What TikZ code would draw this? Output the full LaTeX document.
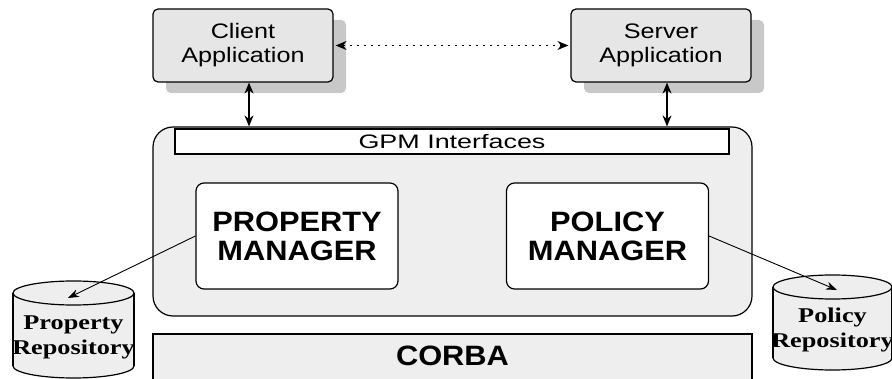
\documentclass[tikz,border=0pt]{standalone}
\usepackage{fontspec}
\setmainfont{Liberation Serif}
\setsansfont{Liberation Sans}
\newfontfamily\appfont[FakeStretch=1.2]{Liberation Sans}
\newfontfamily\barfont[FakeStretch=1.38]{Liberation Sans}
\newfontfamily\mgrfont[FakeStretch=1.1]{Liberation Sans}
\newfontfamily\repofont[FakeStretch=1.25]{Liberation Serif}
\usetikzlibrary{shadows,arrows.meta}
\definecolor{boxgray}{HTML}{EEEEEE}
\definecolor{appgray}{HTML}{E6E6E6}
\definecolor{shadowgray}{HTML}{C8C8C8}

\begin{document}
\begin{tikzpicture}[x=1pt,y=-1pt,
    app/.style={draw, line width=1.2pt, rounded corners=5pt, fill=appgray,
        minimum width=180pt, minimum height=73pt, inner sep=0pt, align=center,
        font=\appfont\fontsize{21}{24}\selectfont,
        drop shadow={shadow xshift=13pt, shadow yshift=-11pt, fill=shadowgray, opacity=1}},
    mgr/.style={draw, line width=1.2pt, rounded corners=8pt, fill=white,
        minimum width=202pt, minimum height=106pt, inner sep=0pt, align=center,
        font=\mgrfont\bfseries\fontsize{28}{29}\selectfont},
    repo/.style={draw, line width=1.2pt, fill=boxgray},
    repolabel/.style={inner sep=0pt, align=center,
        font=\repofont\bfseries\fontsize{21}{25}\selectfont},
    link/.style={line width=1.2pt, {Stealth[length=11pt,width=9pt]}-{Stealth[length=11pt,width=9pt]}},
    feed/.style={line width=0.9pt, -{Stealth[length=11pt,width=8pt]}}
]
\useasboundingbox (0,0) rectangle (892,379);

% applications
\node[app] (client) at (243,45.5) {Client\\Application};
\node[app] (server) at (661,45.5) {Server\\Application};
\draw[line width=1.3pt, dash pattern=on 2.5pt off 4.5pt, {Stealth[length=11pt,width=9pt]}-{Stealth[length=11pt,width=9pt]},
    shorten <=2pt, shorten >=2pt] (client.east) -- (server.west);

% GPM
\node[draw, line width=1.2pt, rounded corners=20pt, fill=boxgray,
    minimum width=599pt, minimum height=189pt] (main) at (452.5,221.5) {};
\node[draw, line width=1.2pt, fill=white, minimum width=554pt, minimum height=25pt, inner sep=0pt,
    font=\barfont\fontsize{19.5}{20}\selectfont] (gpm) at (452,141.5) {GPM Interfaces};

\draw[link] ([xshift=6pt]client.south) -- ([xshift=6pt]client.south |- main.north);
\draw[link] ([xshift=6pt]server.south) -- ([xshift=6pt]server.south |- main.north);

\node[mgr] (propmgr) at (297,236) {PROPERTY\\MANAGER};
\node[mgr] (polmgr) at (607.5,236) {POLICY\\MANAGER};

% CORBA
\node[draw, line width=1.2pt, fill=boxgray, minimum width=599pt, minimum height=66pt] (corbabox) at (452.5,367) {};
\node[font=\mgrfont\bfseries\fontsize{28}{29}\selectfont, inner sep=0pt] (corba) at (452.5,356) {CORBA};

% repositories
\foreach \name/\cx/\rx/\top/\bot in {propdb/73.5/60.5/293/366, poldb/832.5/59.5/287/358}{
    \draw[repo] (\cx,\bot) ellipse [x radius=\rx, y radius=12];
    \fill[boxgray] (\cx-\rx,\top) rectangle (\cx+\rx,\bot);
    \draw[line width=1.2pt] (\cx-\rx,\top) -- (\cx-\rx,\bot) (\cx+\rx,\top) -- (\cx+\rx,\bot);
    \draw[repo] (\cx,\top) ellipse [x radius=\rx, y radius=12];
    \coordinate (\name) at (\cx,\top);
}
\node[repolabel] (proptext) at (73.5,337) {Property\\Repository};
\node[repolabel] (poltext) at (832.5,330) {Policy\\Repository};
\coordinate (proptip) at ([xshift=-5.5pt,yshift=-5pt]propdb);
\coordinate (poltip) at ([xshift=4.5pt,yshift=-3pt]poldb);
\draw[feed] (propmgr.west) -- (proptip);
\draw[feed] (polmgr.east) -- (poltip);

\end{tikzpicture}
\end{document}
